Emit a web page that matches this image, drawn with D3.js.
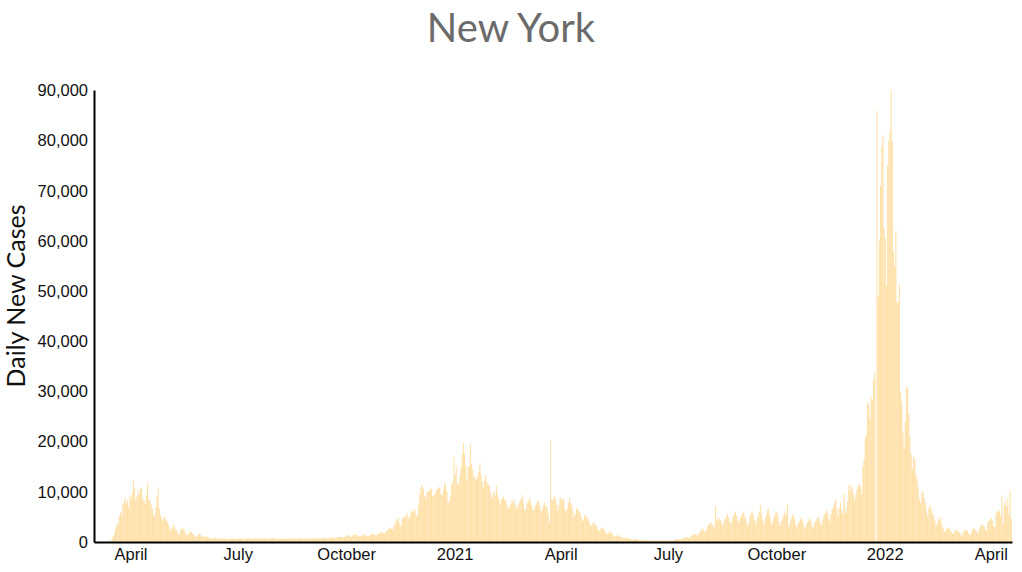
<!DOCTYPE html>
<html>
<head>
<meta charset="utf-8">
<script src="https://cdn.jsdelivr.net/npm/d3@7"></script>
<style>
	body { margin: 0; background: #fff; }
	.axis text { font-family: "Liberation Sans", Arial, sans-serif; font-size: 16.5px; fill: #111; }
	.axis path { stroke: #000; stroke-width: 2; }
</style>
</head>
<body>
<div id="chart"></div>
<script>
var startDate = "2020-03-01";

// daily new cases, 2020-03-01 .. 2020-12-31
var cases2020 = [
	1, 0, 1, 9, 13, 22, 32, 29, 36, 39, 65, 104, 170, 208, 300, 700, 1200, 1800, 2900, 3700, 3400, 5200, 6000, 5300, 7400, 8000, 8800, 7600, 8200, 6900, 9300,
	8600, 9800, 12300, 10800, 8400, 9200, 10400, 9500, 10800, 10600, 8700, 8200, 7600, 9400, 11800, 8400, 8300, 7500, 6700, 5600, 5000, 7000, 9100, 10800, 6800, 5400, 4600, 4300, 5100, 4700,
	4300, 3900, 3400, 2700, 2300, 2800, 3500, 2900, 2400, 2300, 1700, 1500, 2200, 2800, 2600, 2400, 1900, 1300, 1500, 1700, 2200, 2000, 1800, 1500, 1200, 1000, 1100, 1500, 1600, 1400, 1100,
	1100, 1000, 1050, 1100, 1000, 900, 780, 700, 680, 740, 820, 800, 760, 650, 610, 620, 650, 700, 730, 680, 600, 550, 600, 630, 700, 680, 640, 620, 580, 620,
	620, 680, 720, 700, 540, 560, 600, 660, 750, 780, 720, 620, 630, 700, 800, 760, 720, 680, 620, 580, 650, 700, 760, 750, 720, 650, 620, 680, 750, 800, 760,
	720, 680, 600, 620, 680, 700, 720, 680, 620, 560, 600, 650, 700, 720, 700, 640, 580, 600, 650, 680, 720, 700, 650, 580, 600, 640, 680, 700, 720, 680, 620,
	680, 700, 780, 820, 800, 720, 660, 620, 680, 760, 820, 850, 800, 700, 720, 760, 850, 900, 880, 820, 780, 900, 980, 1000, 1050, 1000, 920, 880, 1000, 1100,
	1200, 1400, 1300, 1100, 1000, 1300, 1400, 1600, 1450, 1300, 1100, 1000, 1200, 1300, 1500, 1400, 1300, 1200, 1100, 1250, 1400, 1600, 1650, 1500, 1400, 1300, 1500, 1600, 1700, 2000, 1900,
	1800, 1700, 2000, 2300, 2500, 2700, 2900, 2600, 2500, 3200, 3600, 4500, 4200, 4800, 3500, 3200, 4600, 5000, 4800, 5300, 5800, 5000, 4600, 5500, 6100, 6300, 5900, 6600, 5400, 5200,
	7300, 9500, 10900, 11300, 10600, 9200, 8700, 10000, 10100, 10200, 10800, 10500, 9200, 9300, 9600, 10300, 10600, 10800, 11000, 9600, 9300, 10400, 11700, 11200, 10100, 8200, 7800, 9100, 11500, 12200, 16900
];

var cases2021 = [
	13500, 15000, 11500, 11600, 13400, 14800, 17600, 19800, 17600, 15400, 12500, 15000, 15100, 19500, 15600, 14400, 13100, 12800, 12400, 13200, 14000, 15800, 13500, 12100, 10900, 12400, 13300, 12000, 11500, 11200, 9800,
	8800, 9500, 10200, 9300, 11200, 9500, 8600, 7400, 8200, 8700, 9000, 8400, 8300, 7400, 6900, 6700, 7500, 8200, 7900, 8500, 7600, 6500, 7000, 7600, 8300, 8600, 9400, 7800,
	6300, 6600, 7700, 8000, 8700, 8100, 7200, 6300, 6700, 7300, 7500, 8200, 8100, 7100, 6200, 6400, 7400, 7800, 7200, 6900, 5700, 3800, 20300, 8500, 8400, 9100, 8900, 7700, 6300, 7300, 8900,
	8800, 8200, 8600, 6800, 6100, 6500, 7800, 8700, 7900, 7400, 6100, 5000, 5600, 6800, 6600, 6200, 5900, 4900, 4100, 4500, 5400, 5200, 4800, 4500, 3800, 3200, 3300, 3900, 3700, 3500,
	3100, 2600, 2100, 2400, 2900, 2800, 2500, 2300, 1800, 1500, 1700, 2100, 2000, 1700, 1500, 1200, 1000, 1200, 1400, 1300, 1100, 1000, 900, 700, 750, 850, 900, 800, 650, 550, 450,
	500, 600, 620, 520, 500, 420, 350, 380, 420, 460, 400, 380, 330, 280, 300, 340, 360, 330, 300, 260, 240, 280, 320, 340, 300, 280, 240, 260, 300, 360,
	380, 420, 360, 300, 260, 420, 520, 560, 620, 560, 500, 560, 700, 820, 900, 1000, 900, 800, 900, 1200, 1300, 1500, 1600, 1500, 1300, 1400, 1900, 2100, 2400, 2800, 2300,
	2100, 2200, 3000, 3400, 3600, 4000, 3600, 3200, 2800, 7200, 4300, 4500, 4800, 4400, 3800, 3300, 4100, 4700, 5000, 5600, 4900, 4000, 3600, 4500, 5100, 5600, 6100, 5200, 4300, 3900, 4800,
	5300, 5800, 6200, 5000, 4200, 3100, 3600, 4900, 5600, 6100, 5400, 4300, 3400, 4500, 5200, 6000, 7500, 5600, 4300, 3500, 4700, 5300, 6300, 6600, 5300, 4100, 3600, 4600, 5100, 5900,
	6000, 5000, 3900, 3200, 4100, 4700, 5400, 6200, 5300, 7500, 3000, 3900, 4500, 5200, 5600, 4600, 3500, 2900, 3600, 4000, 4500, 4900, 4200, 3200, 2700, 3400, 3900, 4300, 4800, 4100, 3100,
	2800, 3700, 4200, 4600, 5100, 4600, 3700, 3300, 4500, 5300, 5700, 6400, 5800, 4700, 4100, 5600, 6500, 7100, 7900, 8500, 6600, 5200, 6800, 7800, 6300, 5500, 9600, 7000, 5800, 8100,
	11300, 10200, 11400, 10800, 9400, 8100, 9600, 10500, 11200, 11600, 11000, 9500, 15200, 16400, 20700, 21500, 28000, 27500, 24500, 29000, 28300, 32400, 33700, 0, 86000, 48900, 60000, 71000, 78800, 81000, 62600
];

var cases2022 = [
	60600, 51000, 75000, 80000, 82000, 90100, 79800, 57900, 54900, 62000, 47700, 47900, 51200, 30000, 28000, 22000, 19000, 24000, 31000, 30700, 25500, 21000, 17500, 14500, 17000, 16500, 13500, 12600, 11000, 8500, 7800,
	9800, 10200, 8800, 7900, 6200, 5200, 6800, 7400, 6600, 5800, 5300, 4400, 3300, 3600, 4600, 4300, 5000, 3500, 2700, 2100, 1900, 2600, 2900, 2700, 2500, 2100, 1700, 1600,
	2100, 2500, 2300, 2100, 1900, 1500, 1200, 1800, 2200, 2400, 2300, 2100, 1600, 1300, 2000, 2500, 2800, 2600, 2400, 1900, 1700, 2700, 3300, 3600, 3400, 3100, 2500, 2200, 3900, 4200, 4500,
	4800, 4300, 3200, 3000, 5700, 6000, 6400, 6100, 5200, 9300, 3600, 7500, 8200, 7000, 8800, 5400, 10200, 4600
];

var width = 1022,
	height = 572;
var margin = { top: 90, right: 10, bottom: 30, left: 94 };

var parse = d3.timeParse("%Y-%m-%d");
var first = parse(startDate);
var data = cases2020.concat(cases2021, cases2022).map(function (v, i) {
	return { date: d3.timeDay.offset(first, i), cases: v };
});

var svg = d3
	.select("#chart")
	.append("svg")
	.attr("width", width)
	.attr("height", height);

var x = d3
	.scaleTime()
	.domain([first, d3.timeDay.offset(first, data.length)])
	.range([margin.left, width - margin.right]);

var y = d3
	.scaleLinear()
	.domain([0, d3.max(data, function (d) { return d.cases; })])
	.range([height - margin.bottom, margin.top]);

var step = x(d3.timeDay.offset(first, 1)) - x(first);

svg
	.append("g")
	.selectAll("rect")
	.data(data)
	.enter()
	.append("rect")
	.attr("x", function (d) { return x(d.date); })
	.attr("y", function (d) { return y(d.cases); })
	.attr("width", step - 0.1)
	.attr("height", function (d) { return y(0) - y(d.cases); })
	.attr("fill", "orange")
	.attr("fill-opacity", 0.35);

svg
	.append("g")
	.attr("class", "axis")
	.attr("transform", "translate(0," + (height - margin.bottom) + ")")
	.call(d3.axisBottom(x).ticks(d3.timeMonth.every(3)).tickSize(0).tickPadding(6));

svg
	.append("g")
	.attr("class", "axis")
	.attr("transform", "translate(" + margin.left + ",0)")
	.call(d3.axisLeft(y).ticks(9).tickFormat(d3.format(",")).tickSize(0).tickPadding(6));

// title
svg
	.append("text")
	.attr("x", width / 2)
	.attr("y", 42)
	.attr("text-anchor", "middle")
	.style("font-family", "Lato, sans-serif")
	.style("font-size", "40px")
	.style("fill", "#6b6b6b")
	.text("New York");

// y label
svg
	.append("text")
	.attr("transform", "translate(25,296) rotate(-90)")
	.attr("text-anchor", "middle")
	.style("font-family", "Lato, sans-serif")
	.style("font-size", "25px")
	.style("fill", "#111")
	.text("Daily New Cases");
</script>
</body>
</html>
